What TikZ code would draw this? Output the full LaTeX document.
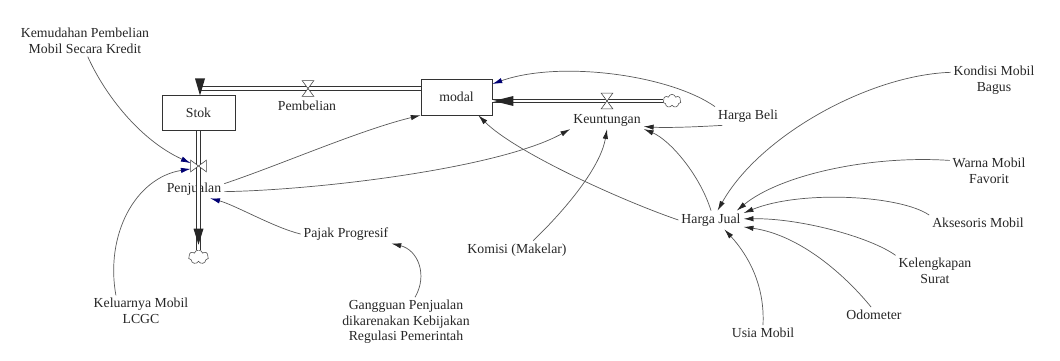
\documentclass[tikz,border=0pt]{standalone}
\usepackage{fontspec}
\setmainfont{Liberation Serif}
\usetikzlibrary{arrows.meta,shapes.symbols}

\begin{document}
\begin{tikzpicture}[x=0.025cm,y=-0.025cm,
	font=\fontsize{9.8}{11}\selectfont,
	level/.style={draw=black!80,thin,minimum width=1.83cm,minimum height=0.88cm,text=black!85},
	aux/.style={align=center,inner sep=2pt,text=black!85},
	pipe/.style={draw=black!80,double=white,double distance=2pt,line width=0.45pt},
	valvebox/.style={inner sep=0pt,minimum width=0.275cm,minimum height=0.375cm},
	valve/.style={draw=black!75,fill=white,line width=0.4pt},
	sink/.style={cloud,cloud puffs=7,draw=black!70,fill=white,inner sep=0pt,minimum width=0.45cm,minimum height=0.33cm},
	link/.style={draw=black!65,line width=0.5pt,-{Latex[length=7pt,width=3.8pt,color=black!85]}},
	bluelink/.style={link,-{Latex[length=7pt,width=3.8pt,color=blue!45!black]}}]
			\useasboundingbox (0,0) rectangle (1060,361);
			
			\node[level](stok) at (198.5,113) {Stok};
			\node[level,minimum width=1.78cm,minimum height=0.9cm](modal) at (456.5,97) {modal};
			
			\coordinate[](pbturn) at (200,88.5);
			\node[valvebox](pbvalve) at (308,88.5) {};
			\node[aux](pblabel) at (307,106) {Pembelian};
			\draw[pipe](pbturn) -- (pbturn -| modal.west);
			\draw[valve](pbvalve.north west) -- (pbvalve.north east) -- (pbvalve.south west) -- (pbvalve.south east) -- cycle;
			\fill[black!85](pbturn) ++(-5,-10) -- ++(10,0) -- ++(-5,17) -- cycle;
			
			\node[valvebox](kuvalve) at (607,101) {};
			\node[aux](kulabel) at (607,120) {Keuntungan};
			\node[sink](kcloud) at (672,101) {};
			\draw[pipe](kcloud.west) -- (kcloud.west -| modal.east);
			\draw[valve](kuvalve.north west) -- (kuvalve.north east) -- (kuvalve.south west) -- (kuvalve.south east) -- cycle;
			\fill[black!85](kcloud.west -| modal.east) ++(1,0) -- ++(20,-5) -- ++(0,10) -- cycle;
			
			\node[valvebox,minimum width=0.375cm,minimum height=0.275cm](pjvalve) at (198.5,166) {};
			\node[aux](pjlabel) at (194,189) {Penjualan};
			\node[sink,minimum width=0.5cm,minimum height=0.35cm](pcloud) at (198.5,257) {};
			\draw[pipe](stok.south) -- (pcloud.north);
			\draw[valve](pjvalve.north west) -- (pjvalve.south west) -- (pjvalve.north east) -- (pjvalve.south east) -- cycle;
			\fill[black!85](pcloud.north) ++(0,-5) -- ++(-5,-16) -- ++(10,0) -- cycle;
			
			\node[aux](kredit) at (85,41) {Kemudahan Pembelian\\Mobil Secara Kredit};
			\node[aux](lcgc) at (141,311) {Keluarnya Mobil\\LCGC};
			\node[aux](pajak) at (346,234) {Pajak Progresif};
			\node[aux](gangguan) at (406,322) {Gangguan Penjualan\\dikarenakan Kebijakan\\Regulasi Pemerintah};
			\node[aux](komisi) at (517,250) {Komisi (Makelar)};
			\node[aux](hbeli) at (748,116) {Harga Beli};
			\node[aux](hjual) at (711,220) {Harga Jual};
			\node[aux](kondisi) at (994,80) {Kondisi Mobil\\Bagus};
			\node[aux](warna) at (989,171) {Warna Mobil\\Favorit};
			\node[aux](aksesoris) at (978,223) {Aksesoris Mobil};
			\node[aux](kelengkapan) at (935,271) {Kelengkapan\\Surat};
			\node[aux](odometer) at (874,315) {Odometer};
			\node[aux](usia) at (763,333) {Usia Mobil};
			
			\draw[bluelink](kredit.-80) .. controls (105,95) and (140,140) .. (pjvalve.160);
			\draw[bluelink](lcgc.148) .. controls (105,235) and (135,178) .. (pjvalve.200);
			\draw[bluelink](pajak.west) .. controls (275,228) and (235,205) .. (pjlabel.-30);
			\draw[link](gangguan.70) .. controls (428,275) and (418,250) .. (pajak.south east);
			\draw[link](pjlabel.10) .. controls (280,165) and (360,130) .. (modal.south west);
			\draw[link](pjlabel.-5) .. controls (320,190) and (500,168) .. (kulabel.south west);
			\draw[bluelink](hbeli.north west) .. controls (670,75) and (560,60) .. (modal.20);
			\draw[link](hbeli.-160) .. controls (695,127) and (665,128) .. (kulabel.-10);
			\draw[link](komisi.30) .. controls (560,215) and (600,170) .. (kulabel.south);
			\draw[link](hjual.north) .. controls (700,175) and (670,140) .. (kulabel.south east);
			\draw[link](hjual.west) .. controls (620,200) and (515,152) .. (modal.-40);
			\draw[link](kondisi.170) .. controls (870,75) and (760,135) .. (hjual.55);
			\draw[link](warna.165) .. controls (870,155) and (780,175) .. (hjual.20);
			\draw[link](aksesoris.north west) .. controls (900,195) and (800,190) .. (hjual.12);
			\draw[link](kelengkapan.north west) .. controls (870,237) and (800,218) .. (hjual.2);
			\draw[link](odometer.110) .. controls (845,275) and (800,235) .. (hjual.-12);
			\draw[link](usia.north) .. controls (765,285) and (748,255) .. (hjual.-35);
\end{tikzpicture}
\end{document}
